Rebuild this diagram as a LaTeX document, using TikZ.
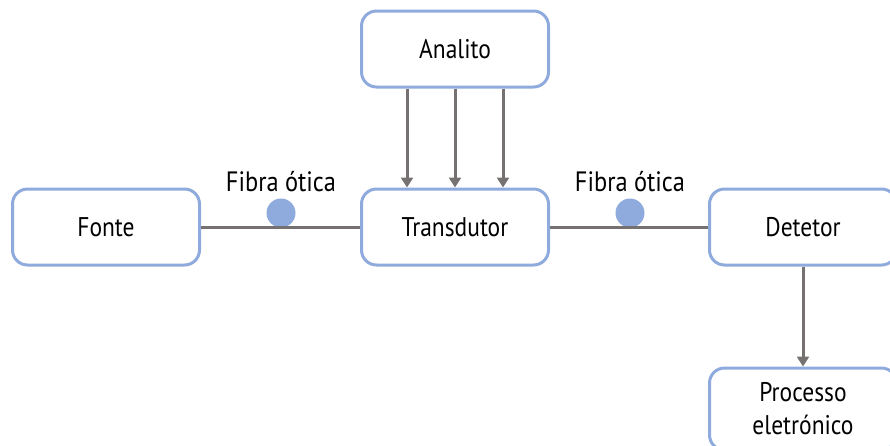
\documentclass[tikz,border=0pt]{standalone}
\usepackage{fontspec}
\setmainfont[FakeStretch=0.87]{PT Sans}
\usepackage{tikz}
\usetikzlibrary{arrows.meta, positioning}
\definecolor{boxblue}{HTML}{8FAADC}
\definecolor{linegray}{HTML}{767171}
\tikzset{blk/.style={draw=boxblue, line width=3pt, rounded corners=15pt, fill=white, minimum width=187pt, minimum height=76pt, align=center, font=\fontsize{27}{33}\selectfont}}
\tikzset{wire/.style={draw=linegray, line width=3pt}}
\tikzset{flow/.style={wire, -{Triangle[length=10pt,width=12pt]}}}
\tikzset{fibdot/.style={circle, fill=boxblue, minimum size=29pt, inner sep=0pt}}
\tikzset{fiblabel/.style={font=\fontsize{28}{33}\selectfont, inner sep=0pt}}

\begin{document}
\begin{tikzpicture}[line cap=butt,line join=round,x=1pt,y=-1pt]
\useasboundingbox (0,0) rectangle (890,445);
\clip (0,0) rectangle (890,445);

\node[blk] (an) at (455,49) {Analito};
\node[blk] (fo) at (106,227) {Fonte};
\node[blk] (tr) at (455,227) {Transdutor};
\node[blk] (de) at (803,227) {Detetor};
\node[blk, minimum height=82pt] (pe) at (803,409) {Processo\\eletrónico};

\node[fibdot] (d1) at (281,213) {};
\node[fibdot] (d2) at (630,213) {};
\node[fiblabel] (l1) at (281,182) {Fibra ótica};
\node[fiblabel] (l2) at (630,182) {Fibra ótica};

\draw[]
 (fo) edge[wire] (tr)
 (tr) edge[wire] (de);
\draw[]
 ([xshift=-48pt]an.south) edge[flow] ([xshift=-48pt]tr.north)
 (an.south) edge[flow] (tr.north)
 ([xshift=48pt]an.south) edge[flow] ([xshift=48pt]tr.north)
 (de) edge[flow] (pe);

\end{tikzpicture}
\end{document}
